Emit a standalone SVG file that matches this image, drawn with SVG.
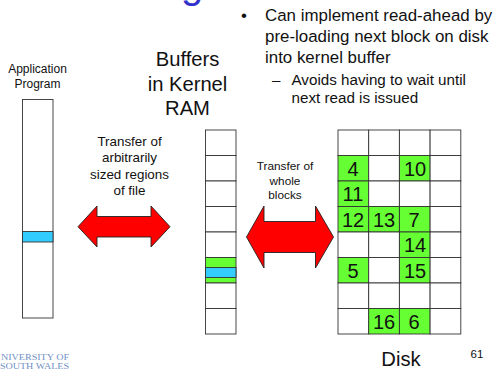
<svg xmlns="http://www.w3.org/2000/svg" width="493" height="370" viewBox="0 0 493 370">
<style>
text{font-family:"Liberation Sans",Arial,sans-serif;fill:#111}
.c{text-anchor:middle}
.s{font-size:12px}
.w{font-size:11.8px}
.m{font-size:13.4px}
.b{font-size:16.9px}
.d{font-size:15.2px}
.h{font-size:20.2px}
.n{font-size:20px;text-anchor:middle}
.l{font-family:"Liberation Serif",serif;font-size:8.800px;fill:#6f8fc4}
.cell{fill:#fff;stroke:#333;stroke-width:.9}
.g{fill:#66ff33;stroke:#333;stroke-width:.9}
.blue{fill:#33ccff;stroke:#333;stroke-width:.9}
.arrow{fill:#f00;stroke:#222;stroke-width:.9}
</style>
<rect width="493" height="370" fill="#fff"/>
<text id="title-fragment" x="181" y="-2" style="font-size:40px;fill:#3333cc">g</text>
<g id="bullets">
<text x="241" y="21" class="b">•</text>
<text x="265" y="21" class="b">Can implement read-ahead by</text>
<text x="265" y="42" class="b">pre-loading next block on disk</text>
<text x="265" y="63" class="b">into kernel buffer</text>
<text x="272" y="85" class="d">–</text>
<text x="291.500" y="85" class="d">Avoids having to wait until</text>
<text x="291.500" y="103" class="d">next read is issued</text>
</g>
<g id="app">
<text x="37.500" y="73" class="c s">Application</text>
<text x="37.500" y="88" class="c s">Program</text>
<rect x="22.5" y="99.5" width="30.500" height="218.500" class="cell"/>
<rect x="22.500" y="231.500" width="30.500" height="10.500" class="blue"/>
</g>
<g id="buffers">
<text x="187.500" y="66" class="c h">Buffers</text>
<text x="187.500" y="90.500" class="c h">in Kernel</text>
<text x="187.500" y="115" class="c h">RAM</text>
<rect x="205.500" y="130" width="30.500" height="25.500" class="cell"/>
<rect x="205.500" y="155.500" width="30.500" height="25.500" class="cell"/>
<rect x="205.500" y="181" width="30.500" height="25.500" class="cell"/>
<rect x="205.500" y="206.500" width="30.500" height="25.500" class="cell"/>
<rect x="205.500" y="232" width="30.500" height="25.500" class="cell"/>
<rect x="205.500" y="257.500" width="30.500" height="25.500" class="g"/>
<rect x="205.500" y="267.500" width="30.500" height="10" class="blue"/>
<rect x="205.500" y="283" width="30.500" height="25.500" class="cell"/>
<rect x="205.500" y="308.500" width="30.500" height="25.500" class="cell"/>
</g>
<g id="connectors">
<path class="arrow" d="M78 226.700L97 206V216.500H151V206L170 226.700L151 247V237H97V247Z"/>
<path class="arrow" d="M246.500 237L264 206V221.500H315.500V206L333.500 237L315.500 268V252.500H264V268Z"/>
</g>
<g id="label-transfer-regions">
<text x="129.500" y="146" class="c m">Transfer of</text>
<text x="129.500" y="162" class="c m">arbitrarily</text>
<text x="129.500" y="179" class="c m">sized regions</text>
<text x="129.500" y="195" class="c m">of file</text>
</g>
<g id="label-transfer-blocks">
<text x="285" y="170" class="c w">Transfer of</text>
<text x="285" y="184.500" class="c w">whole</text>
<text x="285" y="199" class="c w">blocks</text>
</g>
<g id="disk">
<g id="disk-grid">
<rect x="338" y="130" width="30.700" height="25.500" class="cell"/><rect x="368.700" y="130" width="30.700" height="25.500" class="cell"/><rect x="399.400" y="130" width="30.700" height="25.500" class="cell"/><rect x="430.100" y="130" width="30.700" height="25.500" class="cell"/>
<rect x="338" y="155.500" width="30.700" height="25.500" class="g"/><rect x="368.700" y="155.500" width="30.700" height="25.500" class="cell"/><rect x="399.400" y="155.500" width="30.700" height="25.500" class="g"/><rect x="430.100" y="155.500" width="30.700" height="25.500" class="cell"/>
<rect x="338" y="181" width="30.700" height="25.500" class="g"/><rect x="368.700" y="181" width="30.700" height="25.500" class="cell"/><rect x="399.400" y="181" width="30.700" height="25.500" class="cell"/><rect x="430.100" y="181" width="30.700" height="25.500" class="cell"/>
<rect x="338" y="206.500" width="30.700" height="25.500" class="g"/><rect x="368.700" y="206.500" width="30.700" height="25.500" class="g"/><rect x="399.400" y="206.500" width="30.700" height="25.500" class="g"/><rect x="430.100" y="206.500" width="30.700" height="25.500" class="cell"/>
<rect x="338" y="232" width="30.700" height="25.500" class="cell"/><rect x="368.700" y="232" width="30.700" height="25.500" class="cell"/><rect x="399.400" y="232" width="30.700" height="25.500" class="g"/><rect x="430.100" y="232" width="30.700" height="25.500" class="cell"/>
<rect x="338" y="257.500" width="30.700" height="25.500" class="g"/><rect x="368.700" y="257.500" width="30.700" height="25.500" class="cell"/><rect x="399.400" y="257.500" width="30.700" height="25.500" class="g"/><rect x="430.100" y="257.500" width="30.700" height="25.500" class="cell"/>
<rect x="338" y="283" width="30.700" height="25.500" class="cell"/><rect x="368.700" y="283" width="30.700" height="25.500" class="cell"/><rect x="399.400" y="283" width="30.700" height="25.500" class="cell"/><rect x="430.100" y="283" width="30.700" height="25.500" class="cell"/>
<rect x="338" y="308.500" width="30.700" height="25.500" class="cell"/><rect x="368.700" y="308.500" width="30.700" height="25.500" class="g"/><rect x="399.400" y="308.500" width="30.700" height="25.500" class="g"/><rect x="430.100" y="308.500" width="30.700" height="25.500" class="cell"/>
</g>
<text x="353" y="175.500" class="n">4</text>
<text x="415" y="175.500" class="n">10</text>
<text x="353" y="201" class="n">11</text>
<text x="353" y="226.500" class="n">12</text>
<text x="384" y="226.500" class="n">13</text>
<text x="414" y="226.500" class="n">7</text>
<text x="415" y="252" class="n">14</text>
<text x="353" y="277.500" class="n">5</text>
<text x="415" y="277.500" class="n">15</text>
<text x="384" y="328.500" class="n">16</text>
<text x="414" y="328.500" class="n">6</text>
<text x="401" y="366" class="c h">Disk</text>
</g>
<text id="page-number" x="477" y="358" class="c" style="font-size:11.500px">61</text>
<g id="logo">
<text x="1" y="359.500" class="l" textLength="68" lengthAdjust="spacingAndGlyphs">NIVERSITY OF</text>
<text x="0" y="368.500" class="l" textLength="69" lengthAdjust="spacingAndGlyphs">SOUTH WALES</text>
</g>
</svg>
